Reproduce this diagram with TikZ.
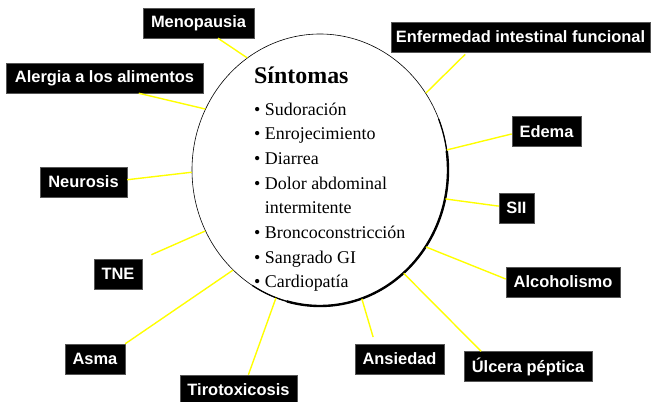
\documentclass[tikz,border=0pt]{standalone}
\usepackage{fontspec}
\setmainfont{Liberation Serif}
\newfontfamily\cajafont{Liberation Sans}
\usetikzlibrary{calc,shapes.geometric}
\definecolor{SXInk}{HTML}{000000}
\definecolor{SXYellow}{HTML}{FFFF00}
\definecolor{SXEdge}{HTML}{555555}
\tikzset{
  caja/.style={fill=SXInk, draw=SXEdge, line width=0.5pt, text=white, inner sep=0pt,
    minimum height=30bp, font=\cajafont\bfseries\fontsize{16.5}{18}\selectfont},
  enlace/.style={draw=SXYellow, line width=1.4pt},
  sintoma/.style={anchor=base west, inner sep=0pt, font=\fontsize{18}{22}\selectfont},
}

\begin{document}
\begin{tikzpicture}[x=1bp,y=-1bp]
  \useasboundingbox (0,0) rectangle (651,401);
  \clip (0,0) rectangle (651,401);

  \node[draw=SXInk, ellipse, minimum width=256bp, minimum height=272bp, inner sep=0pt,
    line width=0.6pt] (sint) at (320,170) {};
  \draw[line width=1.3pt] plot[domain=-122:22, samples=60] ({320+128*cos(\x)},{170-136*sin(\x)});
  \draw[line width=2.4pt] plot[domain=-105:8, samples=60] ({320+128*cos(\x)},{170-136*sin(\x)});

  \node[anchor=base west, inner sep=0pt, font=\bfseries\fontsize{24}{28}\selectfont] (tit) at (254,83) {Síntomas};
  \foreach \txt [count=\i from 0] in {• Sudoración, • Enrojecimiento, • Diarrea, • Dolor abdominal,
      \phantom{• }intermitente, • Broncoconstricción, • Sangrado GI, • Cardiopatía}
    \node[sintoma] (it\i) at (254,{115+24.7*\i}) {\txt};

  \node[caja, minimum width=111bp] (meno) at (198.5,23) {Menopausia};
  \node[caja, minimum width=197bp] (aler) at (104.5,78) {Alergia a los alimentos};
  \node[caja, minimum width=87bp] (neur) at (83.5,182) {Neurosis};
  \node[caja, minimum width=48bp] (tne) at (118,274) {TNE};
  \node[caja, minimum width=60bp] (asma) at (95,359) {Asma};
  \node[caja, minimum width=117bp] (tiro) at (238.5,390) {Tirotoxicosis};
  \node[caja, minimum width=89bp] (ansi) at (399.5,359) {Ansiedad};
  \node[caja, minimum width=128bp] (ulc) at (528,366.5) {Úlcera péptica};
  \node[caja, minimum width=114bp] (alco) at (563,282) {Alcoholismo};
  \node[caja, minimum width=35bp] (sii) at (516.5,208) {SII};
  \node[caja, minimum width=69bp] (edem) at (546.5,131.5) {Edema};
  \node[caja, minimum width=259bp] (enf) at (520.5,37) {Enfermedad intestinal funcional};

  \foreach \caj/\ang/\gap in {meno.-38/123/0, aler.-24/152/0, neur.3/181/0, tne.north east/208/10,
      asma.north east/229/0, tiro.57/251/0, ansi.148/288/7, ulc.162/309/0, alco.177/324/0,
      sii.174/347/0, edem.184/9/0, enf.196/36/3}
    \draw[enlace, shorten <=\gap bp] (\caj) -- (sint.\ang);
\end{tikzpicture}
\end{document}
